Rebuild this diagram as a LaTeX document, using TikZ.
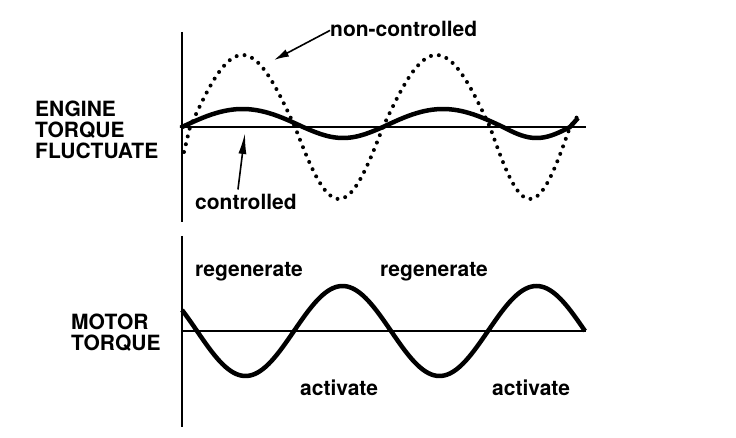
\documentclass[tikz,border=0pt]{standalone}
\usepackage{fontspec}
\setmainfont{TeX Gyre Heros}
\usetikzlibrary{arrows.meta}
\tikzset{
  axis/.style={line width=2.5pt},
  curve/.style={line width=4.5pt},
  dotcurve/.style={line width=4pt, dash pattern=on 0pt off 8pt, line cap=round},
  lbl/.style={font=\bfseries\fontsize{21}{21}\selectfont, inner sep=0pt},
  arr/.style={line width=1.6pt, -{Latex[length=15pt,width=8pt]}}
}
\begin{document}
\begin{tikzpicture}[x=1pt, y=-1pt]
\useasboundingbox (0,0) rectangle (736,438);
% upper chart
\draw [axis] (182,32) -- (182,222);
\draw [axis] (182,127) -- (586,127);
\draw [dotcurve] (184,152) -- (190,127)
  \foreach \a/\b/\s in {190/295/-1, 295/383/1, 383/490/-1, 490/570/1} {
    -- plot [domain=\a:\b, samples=30] (\x, {127 + \s*72*sin(180/(\b-\a)*(\x-\a))})
  } -- (577,117);
\draw [curve] (182,128)
  \foreach \a/\b/\s/\h in {182/303/-1/18, 303/383/1/11, 383/503/-1/18, 503/570/1/11} {
    -- plot [domain=\a:\b, samples=30] (\x, {127 + \s*\h*sin(180/(\b-\a)*(\x-\a))})
  } -- (578,118);
\node [lbl, anchor=north west, align=left] (engLbl) at (35,101) {ENGINE\\TORQUE\\FLUCTUATE};
\node [lbl, anchor=base west] (ncLbl) at (330,37) {non-controlled};
\node [lbl, anchor=base west] (ctlLbl) at (195,210) {controlled};
\coordinate (ncTip) at (274,60);
\coordinate (ctlTip) at (245,133);
\draw [arr] ([yshift=-1pt]ncLbl.west) -- (ncTip);
\draw [arr, -{Latex[length=21pt,width=8pt]}] ([xshift=-8pt, yshift=5pt]ctlLbl.north) -- (ctlTip);

% lower chart
\draw [axis] (182,236) -- (182,427);
\draw [axis] (182,331) -- (586,331);
\draw [curve] plot [domain=182:585, samples=150] (\x, {331 + 45*sin(360/194*(\x-197))});
\node [lbl, anchor=north west, align=left] (motLbl) at (71,314) {MOTOR\\TORQUE};
\node [lbl, anchor=base west] (regA) at (195,277) {regenerate};
\node [lbl, anchor=base west] (regB) at (380,277) {regenerate};
\node [lbl, anchor=base west] (actA) at (300,395) {activate};
\node [lbl, anchor=base west] (actB) at (492,395) {activate};
\end{tikzpicture}
\end{document}
